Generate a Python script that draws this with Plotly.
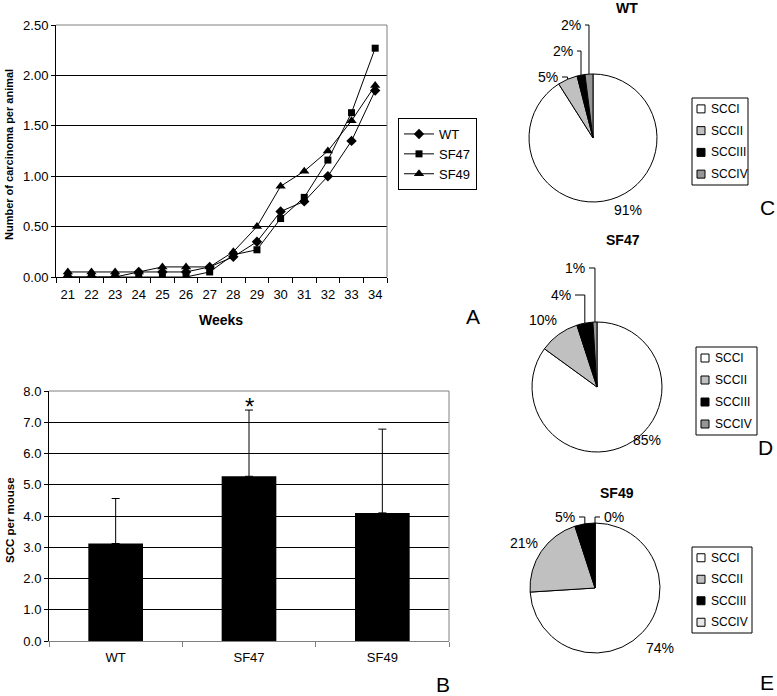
import math
import plotly.graph_objects as go

W, H = 777, 696

# ---------------- data ----------------
weeks = ["21", "22", "23", "24", "25", "26", "27", "28", "29", "30", "31", "32", "33", "34"]
wt_line = [0.00, 0.00, 0.00, 0.05, 0.05, 0.05, 0.10, 0.20, 0.35, 0.65, 0.75, 1.00, 1.35, 1.85]
sf47_line = [0.00, 0.00, 0.00, 0.00, 0.00, 0.00, 0.05, 0.22, 0.27, 0.58, 0.79, 1.16, 1.63, 2.27]
sf49_line = [0.05, 0.05, 0.05, 0.05, 0.10, 0.10, 0.10, 0.25, 0.50, 0.90, 1.05, 1.25, 1.55, 1.90]

groups = ["WT", "SF47", "SF49"]
scc_mean = [3.12, 5.27, 4.10]
scc_err = [1.44, 2.12, 2.68]

pie_labels = ["SCCI", "SCCII", "SCCIII", "SCCIV"]
wt_pct = [91, 5, 2, 2]
sf47_pct = [85, 10, 4, 1]
sf49_pct = [74, 21, 5, 0]

FONT = "Liberation Sans, Arial, sans-serif"


def X(px):
    return px / W


def Y(py):
    return 1 - py / H


def note(text, px, py, size=14, xa="center", ya="middle", angle=0):
    return dict(text=text, x=X(px), y=Y(py), xref="paper", yref="paper", showarrow=False,
                xanchor=xa, yanchor=ya, textangle=angle,
                font=dict(size=size, family=FONT, color="black"))


fig = go.Figure()

# ---------------- A: line chart ----------------
for name, vals, sym, size in [("WT", wt_line, "diamond", 8),
                              ("SF47", sf47_line, "square", 7),
                              ("SF49", sf49_line, "triangle-up", 9)]:
    fig.add_trace(go.Scatter(x=weeks, y=vals, name=name, mode="lines+markers",
                             line=dict(color="black", width=1),
                             marker=dict(symbol=sym, size=size, color="black"),
                             xaxis="x", yaxis="y"))

# ---------------- B: bar chart ----------------
fig.add_trace(go.Bar(x=groups, y=scc_mean, marker=dict(color="black", line=dict(width=0)),
                     width=0.41, showlegend=False, xaxis="x2", yaxis="y2",
                     error_y=dict(type="data", array=scc_err, arrayminus=[0, 0, 0],
                                  symmetric=False, color="black", thickness=1, width=4)))

# ---------------- C, D, E: pies ----------------
pies = [
    dict(vals=wt_pct, cx=593, cy=138, r=64,
         colors=["white", "#c0c0c0", "black", "#969696"], title="WT", tx=627, ty=8,
         labels=[("c", 628, 210), ("r", 560, 77), ("r", 575, 51), ("r", 583, 25)],
         box=(692, 98, 748, 185)),
    dict(vals=sf47_pct, cx=597, cy=387, r=65,
         colors=["white", "#c0c0c0", "black", "#969696"], title="SF47", tx=623, ty=240,
         labels=[("c", 647, 440), ("c", 543, 320), ("r", 573, 295), ("r", 587, 268)],
         box=(696, 347, 757, 435)),
    dict(vals=sf49_pct, cx=595, cy=588, r=65,
         colors=["white", "#c0c0c0", "black", "#e8e8e8"], title="SF49", tx=617, ty=493,
         labels=[("c", 660, 648), ("c", 524, 543), ("r", 577, 517), ("l", 602, 517)],
         box=(692, 547, 752, 633)),
]

annotations = []
shapes = []

for p in pies:
    fig.add_trace(go.Pie(labels=pie_labels, values=p["vals"], sort=False, direction="clockwise",
                         rotation=0, textinfo="none", hoverinfo="label+percent", showlegend=False,
                         marker=dict(colors=p["colors"], line=dict(color="black", width=1)),
                         domain=dict(x=[X(p["cx"] - p["r"]), X(p["cx"] + p["r"])],
                                     y=[Y(p["cy"] + p["r"]), Y(p["cy"] - p["r"])])))
    annotations.append(note("<b>%s</b>" % p["title"], p["tx"], p["ty"], 14))
    total = sum(p["vals"])
    cum = 0.0
    for v, (mode, lx, ly) in zip(p["vals"], p["labels"]):
        mid = (cum + v / 2.0) / total
        cum += v
        th = 2 * math.pi * mid
        ex = p["cx"] + p["r"] * math.sin(th)
        ey = p["cy"] - p["r"] * math.cos(th)
        txt = "%d%%" % round(100.0 * v / total)
        if mode == "c":
            annotations.append(note(txt, lx, ly, 14))
        else:
            xa = "right" if mode == "r" else "left"
            annotations.append(note(txt, lx, ly, 14, xa=xa))
            sx = lx + 2 if mode == "r" else lx - 2
            path = "M %f,%f L %f,%f L %f,%f" % (X(sx), Y(ly), X(ex), Y(ly), X(ex), Y(ey))
            shapes.append(dict(type="path", path=path, xref="paper", yref="paper",
                               line=dict(color="black", width=1)))
    # hand-built legend box for the pie
    bx0, by0, bx1, by1 = p["box"]
    shapes.append(dict(type="rect", x0=X(bx0), x1=X(bx1), y0=Y(by0), y1=Y(by1),
                       xref="paper", yref="paper", line=dict(color="black", width=1),
                       fillcolor="white"))
    step = (by1 - by0) / len(pie_labels)
    for i, (lab, col) in enumerate(zip(pie_labels, p["colors"])):
        iy = by0 + step * (i + 0.5)
        shapes.append(dict(type="rect", x0=X(bx0 + 5), x1=X(bx0 + 13), y0=Y(iy - 4), y1=Y(iy + 4),
                           xref="paper", yref="paper", line=dict(color="black", width=1),
                           fillcolor=col))
        annotations.append(note(lab, bx0 + 17, iy, 12, xa="left"))

# plot-area borders (grey top/right)
shapes.append(dict(type="path", path="M 0,1 L 1,1 L 1,0", xref="x domain", yref="y domain",
                   line=dict(color="#808080", width=1), layer="above"))
shapes.append(dict(type="path", path="M 0,1 L 1,1 L 1,0", xref="x2 domain", yref="y2 domain",
                   line=dict(color="#808080", width=1), layer="above"))

# axis titles and panel letters
annotations += [
    note("<b>Weeks</b>", 221, 320, 14),
    note("<b>Number of carcinoma per animal</b>", 9, 155, 11, angle=-90),
    note("<b>SCC per mouse</b>", 10, 520, 11.5, angle=-90),
    dict(text="*", x="SF47", y=scc_mean[1] + scc_err[1], xref="x2", yref="y2", showarrow=False,
         xanchor="center", yanchor="bottom", yshift=-12,
         font=dict(size=24, family=FONT, color="black")),
]
for letter, lx, ly in [("A", 473, 316), ("B", 443, 684), ("C", 767, 207), ("D", 765, 447), ("E", 767, 682)]:
    annotations.append(note(letter, lx, ly, 21))

fig.update_layout(
    width=W, height=H, margin=dict(l=0, r=0, t=0, b=0, autoexpand=False),
    paper_bgcolor="white", plot_bgcolor="white",
    font=dict(family=FONT, size=13, color="black"),
    xaxis=dict(domain=[X(56), X(387)], type="category", range=[-0.5, 13.5],
               showline=True, linecolor="black", linewidth=1, ticks="outside", tickson="boundaries",
               ticklen=5, tickcolor="black", showgrid=False, zeroline=False, tickangle=0,
               ticklabelstandoff=5,
               tickfont=dict(size=13, family=FONT), anchor="y", automargin=False),
    yaxis=dict(domain=[Y(277), Y(25)], range=[0, 2.5], tickvals=[0, 0.5, 1, 1.5, 2, 2.5],
               tickformat=".2f", showline=True, linecolor="black", linewidth=1, ticks="outside",
               ticklen=4, tickcolor="black", showgrid=True, gridcolor="black", gridwidth=1,
               zeroline=False, tickfont=dict(size=13, family=FONT), anchor="x", automargin=False),
    xaxis2=dict(domain=[X(49), X(449)], type="category", range=[-0.5, 2.5],
                showline=True, linecolor="#808080", linewidth=1, ticks="outside", tickson="boundaries",
                ticklen=5, tickcolor="#808080", showgrid=False, zeroline=False, tickangle=0,
                ticklabelstandoff=4,
                tickfont=dict(size=13, family=FONT), anchor="y2", automargin=False),
    yaxis2=dict(domain=[Y(641), Y(391)], range=[0, 8], tickvals=[0, 1, 2, 3, 4, 5, 6, 7, 8],
                tickformat=".1f", showline=True, linecolor="black", linewidth=1, ticks="outside",
                ticklen=4, tickcolor="black", showgrid=True, gridcolor="black", gridwidth=1,
                zeroline=False, tickfont=dict(size=13, family=FONT), anchor="x2", automargin=False),
    legend=dict(x=X(398), y=Y(118), xanchor="left", yanchor="top", bordercolor="black",
                borderwidth=1, bgcolor="white", font=dict(size=13, family=FONT, color="black"),
                traceorder="normal", tracegroupgap=0, itemwidth=30),
    annotations=annotations,
    shapes=shapes,
    showlegend=True,
)

fig.write_html("out.html", config={"displayModeBar": False},
               post_script="document.body.style.margin='0';")
